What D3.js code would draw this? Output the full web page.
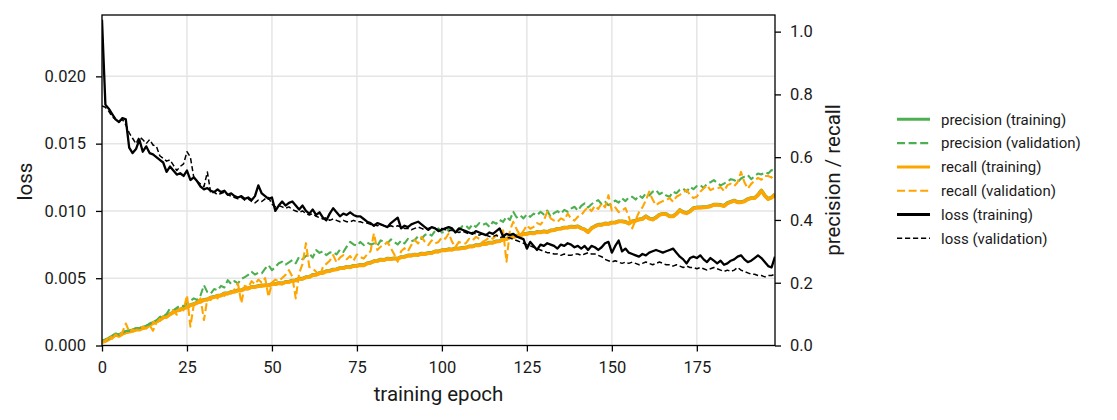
<!DOCTYPE html>
<html><head><meta charset="utf-8">
<script src="https://cdn.jsdelivr.net/npm/d3@7"></script>
<style>
body{margin:0;background:#fff;}
svg{display:block;font-family:Roboto,"Noto Sans",sans-serif;}
</style></head><body>
<svg id="chart" width="1117" height="420"></svg>
<script>
// ---------- data (epochs 0..198) ----------
const lossTraining = [
0.0242,0.0179,0.0176,0.0172,0.0168,0.0166,0.0169,0.0168,0.0147,0.0143,
0.0146,0.0153,0.0144,0.0148,0.0143,0.0142,0.0140,0.0138,0.0136,0.0129,
0.0133,0.0130,0.0127,0.0128,0.0126,0.0130,0.0123,0.0125,0.0122,0.0118,
0.0116,0.0117,0.0115,0.0114,0.0116,0.0114,0.0115,0.0112,0.0113,0.0111,
0.0110,0.0111,0.0109,0.0110,0.0108,0.0111,0.0119,0.0113,0.0111,0.0109,
0.0110,0.0100,0.0104,0.0107,0.0104,0.0106,0.0107,0.0104,0.0101,0.0104,
0.0100,0.0098,0.0101,0.0097,0.0099,0.0095,0.0093,0.0098,0.0102,0.0099,
0.0096,0.0098,0.0097,0.0099,0.0097,0.0096,0.0096,0.0094,0.0092,0.0091,
0.0089,0.0091,0.0090,0.0089,0.0088,0.0091,0.0093,0.0095,0.0087,0.0089,
0.0088,0.0090,0.0091,0.0092,0.0090,0.0088,0.0086,0.0088,0.0087,0.0085,
0.0086,0.0087,0.0088,0.0087,0.0084,0.0087,0.0086,0.0085,0.0084,0.0083,
0.0085,0.0084,0.0083,0.0082,0.0084,0.0083,0.0085,0.0087,0.0081,0.0083,
0.0082,0.0083,0.0081,0.0080,0.0079,0.0072,0.0077,0.0074,0.0071,0.0075,
0.0074,0.0076,0.0075,0.0074,0.0072,0.0075,0.0074,0.0076,0.0075,0.0073,
0.0074,0.0072,0.0074,0.0071,0.0074,0.0073,0.0071,0.0073,0.0076,0.0077,
0.0069,0.0074,0.0078,0.0070,0.0072,0.0069,0.0068,0.0067,0.0066,0.0068,
0.0067,0.0069,0.0070,0.0071,0.0070,0.0069,0.0070,0.0071,0.0072,0.0069,
0.0066,0.0064,0.0061,0.0065,0.0066,0.0065,0.0067,0.0064,0.0062,0.0065,
0.0063,0.0061,0.0063,0.0060,0.0061,0.0063,0.0064,0.0066,0.0067,0.0064,
0.0062,0.0063,0.0065,0.0067,0.0065,0.0062,0.0059,0.0058,0.0066];

const lossValidation = [
0.0178,0.0177,0.0174,0.0170,0.0168,0.0167,0.0168,0.0164,0.0158,0.0154,
0.0150,0.0155,0.0153,0.0150,0.0153,0.0149,0.0148,0.0141,0.0139,0.0137,
0.0138,0.0134,0.0130,0.0133,0.0135,0.0144,0.0140,0.0125,0.0122,0.0120,
0.0118,0.0129,0.0113,0.0114,0.0112,0.0113,0.0114,0.0112,0.0111,0.0110,
0.0109,0.0110,0.0108,0.0109,0.0107,0.0106,0.0108,0.0107,0.0109,0.0110,
0.0105,0.0103,0.0104,0.0103,0.0102,0.0103,0.0101,0.0100,0.0099,0.0100,
0.0098,0.0097,0.0098,0.0096,0.0095,0.0094,0.0095,0.0093,0.0094,0.0093,
0.0092,0.0093,0.0092,0.0092,0.0093,0.0092,0.0092,0.0091,0.0091,0.0090,
0.0090,0.0089,0.0090,0.0089,0.0088,0.0089,0.0088,0.0089,0.0088,0.0087,
0.0087,0.0086,0.0087,0.0088,0.0087,0.0086,0.0087,0.0088,0.0087,0.0086,
0.0087,0.0086,0.0085,0.0086,0.0085,0.0084,0.0085,0.0084,0.0083,0.0084,
0.0083,0.0082,0.0083,0.0082,0.0081,0.0081,0.0082,0.0080,0.0081,0.0080,
0.0080,0.0079,0.0078,0.0077,0.0076,0.0075,0.0074,0.0073,0.0072,0.0071,
0.0070,0.0069,0.0069,0.0068,0.0068,0.0067,0.0068,0.0067,0.0067,0.0068,
0.0068,0.0067,0.0068,0.0069,0.0068,0.0068,0.0067,0.0066,0.0064,0.0063,
0.0062,0.0063,0.0062,0.0061,0.0062,0.0061,0.0062,0.0061,0.0060,0.0061,
0.0062,0.0061,0.0060,0.0061,0.0062,0.0061,0.0060,0.0060,0.0059,0.0060,
0.0059,0.0058,0.0059,0.0058,0.0058,0.0057,0.0058,0.0057,0.0056,0.0057,
0.0058,0.0057,0.0056,0.0055,0.0056,0.0055,0.0056,0.0058,0.0056,0.0055,
0.0054,0.0053,0.0053,0.0052,0.0052,0.0051,0.0052,0.0052,0.0053];

const recallTraining = [
0.010,0.014,0.020,0.026,0.034,0.030,0.037,0.041,0.044,0.046,
0.051,0.050,0.055,0.057,0.065,0.071,0.076,0.081,0.089,0.092,
0.099,0.105,0.111,0.113,0.119,0.121,0.128,0.131,0.136,0.139,
0.145,0.146,0.152,0.154,0.158,0.159,0.165,0.165,0.170,0.171,
0.175,0.175,0.181,0.181,0.186,0.186,0.189,0.190,0.191,0.191,
0.195,0.195,0.198,0.197,0.202,0.202,0.206,0.207,0.212,0.212,
0.217,0.218,0.224,0.225,0.230,0.231,0.236,0.237,0.241,0.242,
0.246,0.246,0.250,0.249,0.253,0.253,0.256,0.255,0.261,0.263,
0.268,0.269,0.273,0.272,0.276,0.275,0.277,0.276,0.281,0.282,
0.286,0.286,0.289,0.288,0.292,0.291,0.294,0.294,0.299,0.299,
0.303,0.303,0.306,0.305,0.309,0.308,0.310,0.311,0.315,0.315,
0.319,0.319,0.323,0.323,0.327,0.327,0.331,0.332,0.338,0.339,
0.344,0.345,0.349,0.350,0.355,0.355,0.358,0.357,0.361,0.360,
0.363,0.361,0.366,0.367,0.371,0.372,0.375,0.375,0.378,0.377,
0.379,0.373,0.369,0.361,0.373,0.379,0.384,0.384,0.388,0.387,
0.391,0.391,0.395,0.395,0.393,0.388,0.395,0.397,0.401,0.403,
0.411,0.404,0.401,0.407,0.416,0.419,0.418,0.411,0.411,0.419,
0.431,0.424,0.421,0.427,0.437,0.439,0.439,0.440,0.441,0.443,
0.448,0.448,0.447,0.444,0.453,0.457,0.461,0.456,0.456,0.459,
0.466,0.469,0.469,0.479,0.493,0.477,0.466,0.471,0.481];

const precisionTraining = [
0.013,0.017,0.022,0.029,0.036,0.033,0.039,0.044,0.046,0.049,
0.053,0.052,0.057,0.059,0.067,0.072,0.077,0.082,0.090,0.093,
0.100,0.106,0.112,0.114,0.120,0.122,0.129,0.132,0.137,0.140,
0.146,0.147,0.153,0.155,0.159,0.160,0.166,0.166,0.171,0.172,
0.176,0.176,0.182,0.182,0.187,0.187,0.190,0.191,0.192,0.192,
0.196,0.196,0.199,0.198,0.203,0.203,0.207,0.208,0.213,0.213,
0.218,0.219,0.225,0.226,0.231,0.232,0.237,0.238,0.242,0.243,
0.247,0.247,0.251,0.250,0.254,0.254,0.257,0.256,0.262,0.264,
0.269,0.270,0.274,0.273,0.277,0.276,0.278,0.277,0.282,0.283,
0.287,0.287,0.290,0.289,0.293,0.292,0.295,0.295,0.300,0.300,
0.304,0.304,0.307,0.306,0.310,0.309,0.311,0.312,0.316,0.316,
0.320,0.320,0.324,0.324,0.328,0.328,0.332,0.333,0.339,0.340,
0.345,0.346,0.350,0.351,0.356,0.356,0.359,0.358,0.362,0.361,
0.364,0.362,0.367,0.368,0.372,0.373,0.376,0.376,0.379,0.378,
0.380,0.374,0.370,0.362,0.374,0.380,0.385,0.385,0.389,0.388,
0.392,0.392,0.396,0.396,0.394,0.389,0.396,0.398,0.402,0.404,
0.412,0.405,0.402,0.408,0.417,0.420,0.419,0.412,0.412,0.420,
0.432,0.425,0.422,0.428,0.438,0.440,0.440,0.441,0.442,0.444,
0.449,0.449,0.448,0.445,0.454,0.458,0.462,0.457,0.457,0.460,
0.467,0.470,0.470,0.480,0.494,0.478,0.467,0.472,0.482];

const precisionValidation = [
0.012,0.016,0.022,0.030,0.036,0.034,0.040,0.046,0.046,0.050,
0.054,0.056,0.058,0.063,0.068,0.076,0.080,0.091,0.095,0.100,
0.118,0.112,0.120,0.128,0.125,0.135,0.142,0.150,0.145,0.160,
0.192,0.170,0.165,0.180,0.176,0.190,0.185,0.208,0.196,0.205,
0.198,0.212,0.218,0.225,0.235,0.226,0.232,0.230,0.245,0.256,
0.240,0.250,0.262,0.267,0.258,0.265,0.272,0.262,0.283,0.275,
0.285,0.293,0.280,0.304,0.295,0.300,0.288,0.296,0.298,0.290,
0.305,0.298,0.315,0.330,0.322,0.318,0.330,0.320,0.328,0.322,
0.325,0.318,0.335,0.330,0.326,0.338,0.330,0.322,0.334,0.325,
0.340,0.332,0.336,0.348,0.340,0.352,0.357,0.350,0.365,0.373,
0.360,0.362,0.370,0.366,0.373,0.368,0.380,0.383,0.372,0.386,
0.378,0.390,0.384,0.389,0.378,0.394,0.388,0.400,0.394,0.410,
0.400,0.426,0.408,0.415,0.405,0.418,0.410,0.420,0.415,0.426,
0.418,0.430,0.410,0.422,0.428,0.420,0.432,0.426,0.436,0.442,
0.430,0.445,0.453,0.440,0.450,0.458,0.463,0.450,0.458,0.447,
0.453,0.462,0.455,0.469,0.460,0.472,0.474,0.465,0.478,0.470,
0.485,0.478,0.490,0.495,0.482,0.488,0.478,0.474,0.490,0.485,
0.496,0.500,0.490,0.505,0.498,0.508,0.511,0.502,0.515,0.520,
0.527,0.518,0.510,0.516,0.522,0.530,0.527,0.520,0.532,0.538,
0.543,0.530,0.540,0.548,0.545,0.552,0.548,0.559,0.555];

const recallValidation = [
0.010,0.015,0.025,0.022,0.035,0.028,0.042,0.070,0.045,0.050,
0.048,0.056,0.060,0.055,0.065,0.047,0.072,0.085,0.090,0.088,
0.100,0.112,0.098,0.118,0.112,0.160,0.060,0.130,0.140,0.150,
0.081,0.150,0.145,0.160,0.150,0.168,0.158,0.172,0.165,0.180,
0.198,0.135,0.190,0.185,0.205,0.195,0.210,0.200,0.215,0.155,
0.200,0.210,0.205,0.215,0.225,0.240,0.220,0.150,0.230,0.260,
0.326,0.250,0.245,0.235,0.219,0.250,0.260,0.270,0.288,0.265,
0.280,0.288,0.275,0.285,0.270,0.290,0.282,0.277,0.290,0.300,
0.357,0.304,0.315,0.320,0.330,0.310,0.290,0.267,0.300,0.310,
0.300,0.320,0.336,0.325,0.346,0.330,0.320,0.335,0.325,0.330,
0.345,0.340,0.357,0.330,0.314,0.330,0.325,0.325,0.340,0.335,
0.346,0.340,0.330,0.336,0.345,0.340,0.351,0.360,0.367,0.267,
0.367,0.394,0.370,0.351,0.365,0.383,0.372,0.378,0.390,0.385,
0.399,0.426,0.405,0.398,0.394,0.405,0.400,0.420,0.405,0.398,
0.410,0.415,0.430,0.440,0.428,0.445,0.435,0.453,0.440,0.479,
0.430,0.440,0.425,0.430,0.438,0.410,0.373,0.400,0.425,0.440,
0.463,0.490,0.465,0.447,0.455,0.460,0.463,0.470,0.458,0.474,
0.480,0.488,0.495,0.480,0.470,0.474,0.490,0.500,0.511,0.495,
0.500,0.500,0.505,0.492,0.511,0.515,0.508,0.520,0.553,0.520,
0.500,0.515,0.525,0.534,0.528,0.540,0.540,0.535,0.546];

const xTicks = [0, 25, 50, 75, 100, 125, 150, 175];
const lossTicks = [0, 0.005, 0.010, 0.015, 0.020];
const prTicks = [0, 0.2, 0.4, 0.6, 0.8, 1.0];
const legendLabels = ["precision (training)","precision (validation)","recall (training)","recall (validation)","loss (training)","loss (validation)"];

// ---------- layout ----------
const svg = d3.select("#chart");
const L = 102, R = 775, T = 15, B = 345.5;
const GREEN = "#4caf50", ORANGE = "#ffa500", BLACK = "#000";
const TXT = "#1a1a1a";

const x = d3.scaleLinear().domain([0, 198]).range([L, R]);
const yLoss = d3.scaleLinear().domain([0, 0.02456]).range([B, T]);
const yPR = d3.scaleLinear().domain([0, 1.053]).range([B, T]);

// grid
const grid = svg.append("g");
grid.selectAll("line.v").data(xTicks).join("line")
  .attr("x1", d => x(d)).attr("x2", d => x(d)).attr("y1", T).attr("y2", B)
  .attr("stroke", "#e5e5e5").attr("stroke-width", 1.5);
grid.selectAll("line.h").data(lossTicks).join("line")
  .attr("y1", d => yLoss(d)).attr("y2", d => yLoss(d)).attr("x1", L).attr("x2", R)
  .attr("stroke", "#e5e5e5").attr("stroke-width", 1.5);

// clip
svg.append("clipPath").attr("id", "clip").append("rect")
  .attr("x", L).attr("y", T).attr("width", R - L).attr("height", B - T);
const plot = svg.append("g").attr("clip-path", "url(#clip)");

function drawSeries(arr, yScale, color, width, dash) {
  const line = d3.line().x((d, i) => x(i)).y(d => yScale(d));
  plot.append("path").datum(arr).attr("d", line)
    .attr("fill", "none").attr("stroke", color).attr("stroke-width", width)
    .attr("stroke-linejoin", "round")
    .attr("stroke-dasharray", dash || null);
}
const DASH_C = "8,3.6", DASH_K = "5.2,2.8";
drawSeries(precisionTraining, yPR, GREEN, 3.6);
drawSeries(recallTraining, yPR, ORANGE, 3.6);
drawSeries(precisionValidation, yPR, GREEN, 2.1, DASH_C);
drawSeries(recallValidation, yPR, ORANGE, 2.1, DASH_C);
drawSeries(lossTraining, yLoss, BLACK, 2.3);
drawSeries(lossValidation, yLoss, BLACK, 1.5, DASH_K);

// frame
svg.append("rect").attr("x", L).attr("y", T).attr("width", R - L).attr("height", B - T)
  .attr("fill", "none").attr("stroke", "#000").attr("stroke-width", 1.3);

function styleAxis(g) {
  g.select(".domain").remove();
  g.selectAll(".tick line").attr("stroke", "#000").attr("stroke-width", 1.3);
  g.selectAll(".tick text").attr("fill", TXT).style("font-size", "16.5px")
    .style("font-family", "Roboto, sans-serif");
}
svg.append("g").attr("transform", `translate(0,${B})`)
  .call(d3.axisBottom(x).tickValues(xTicks).tickSize(6).tickPadding(10).tickFormat(d3.format("d")))
  .call(styleAxis);
svg.append("g").attr("transform", `translate(${L},0)`)
  .call(d3.axisLeft(yLoss).tickValues(lossTicks).tickSize(6).tickPadding(10).tickFormat(d3.format(".3f")))
  .call(styleAxis);
svg.append("g").attr("transform", `translate(${R},0)`)
  .call(d3.axisRight(yPR).tickValues(prTicks).tickSize(6).tickPadding(9).tickFormat(d3.format(".1f")))
  .call(styleAxis);

// axis labels
svg.append("text").attr("x", (L + R) / 2).attr("y", 401).attr("text-anchor", "middle")
  .style("font-size", "20.5px").attr("fill", TXT).text("training epoch");
svg.append("text").attr("transform", `translate(31.5,181.5) rotate(-90)`)
  .attr("text-anchor", "middle").style("font-size", "20.5px").attr("fill", TXT).text("loss");
svg.append("text").attr("transform", `translate(840,180) rotate(-90)`)
  .attr("text-anchor", "middle").style("font-size", "20.5px").attr("fill", TXT).text("precision / recall");

// legend
const legStyles = [
  {c: GREEN, w: 3, d: null},
  {c: GREEN, w: 2.1, d: DASH_C},
  {c: ORANGE, w: 3, d: null},
  {c: ORANGE, w: 2.1, d: DASH_C},
  {c: BLACK, w: 2.8, d: null},
  {c: BLACK, w: 1.5, d: DASH_K}
];
const leg = svg.append("g");
const rows = leg.selectAll("g").data(legendLabels).join("g")
  .attr("transform", (d, i) => `translate(0,${119.3 + i * 23.8})`);
rows.append("line").attr("x1", 897).attr("x2", 930).attr("y1", 0).attr("y2", 0)
  .attr("stroke", (d, i) => legStyles[i].c).attr("stroke-width", (d, i) => legStyles[i].w)
  .attr("stroke-dasharray", (d, i) => legStyles[i].d);
rows.append("text").attr("x", 941).attr("y", 0).attr("dy", "0.35em")
  .style("font-size", "15px").attr("fill", TXT).text(d => d);
</script>
</body></html>
